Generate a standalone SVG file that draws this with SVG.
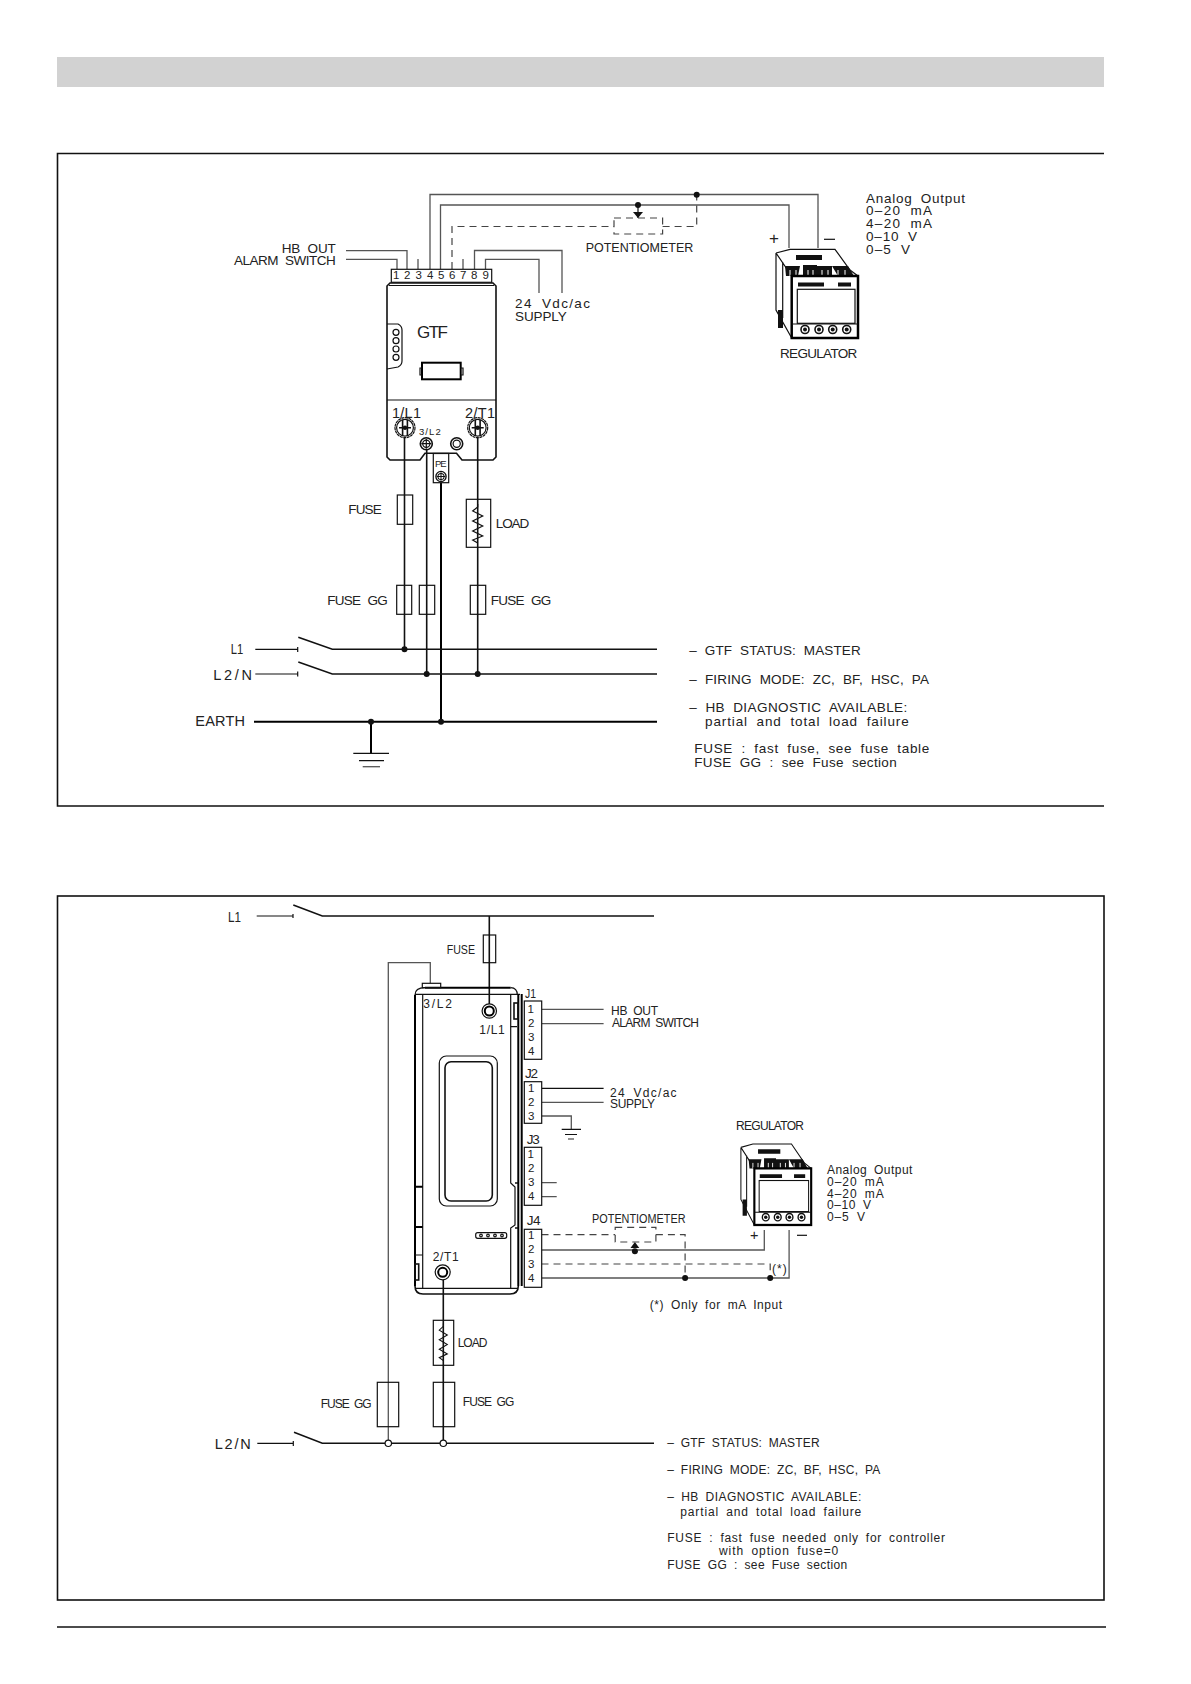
<svg xmlns="http://www.w3.org/2000/svg" width="1191" height="1684" viewBox="0 0 1191 1684">
<style>
text{font-family:"Liberation Sans",Arial,sans-serif;font-size:13.5px;fill:#222;word-spacing:4px}
.s{font-size:12px;word-spacing:3px}
.n{font-size:11.5px;word-spacing:0}
.xs{font-size:9.5px;word-spacing:0}
.m{font-size:14.5px;word-spacing:0}
.l{font-size:17px;word-spacing:0}
.h{fill:none;stroke:#111;stroke-width:1.2}
.k{fill:none;stroke:#000;stroke-width:2}
.w{fill:none;stroke:#555;stroke-width:1.3}
.b{fill:none;stroke:#111;stroke-width:1.6}
.d{fill:none;stroke:#444;stroke-width:1.2;stroke-dasharray:7 5}
.f{fill:#fff;stroke:#111;stroke-width:1.2}
.o{fill:#111;stroke:none}
</style>
<defs>
<circle id="dot" r="3" class="o"/>
<g id="screw">
<circle r="10" class="h" stroke-dasharray="3 0.6"/><circle r="8.4" class="h"/><circle r="2.2" class="o"/>
<path class="b" d="M-2.4-8V8M2.4-8V8M-6 0H6"/>
</g>
<g id="smallscrew">
<circle r="6" class="b"/><circle r="3.6" class="h"/><path class="h" d="M-5 0H5M0-5V5"/>
</g>
<path id="zig" class="h" d="M0 0L0 3-5 7 5 12-5 17 5 22-5 27 5 32-5 36 0 39"/>
<g id="reg">
<path class="h" d="M776 253L790 249.3H835L850 270L858 276M776 253V310L791.7 338M776 253L791.7 276M782.7 262V318"/>
<path class="o" d="M796 255H822V260H796ZM785 266H800L798 276H786ZM803 265H817V276H803ZM817 266H832V276H817ZM832 266H848L854 276H838ZM778 310H783V328H778Z"/>
<path stroke="#fff" stroke-width="1" fill="none" d="M790 270V276M796 270V276M808 270V276M813 270V276M822 270V276M828 270V276M838 270V276M845 270V276"/>
<rect x="791.7" y="276" width="66.3" height="62" fill="#fff" stroke="#000" stroke-width="2.5"/>
<rect x="797.3" y="289.3" width="57.7" height="34" class="h" stroke-width="1.4"/>
<path class="o" d="M798 282.5H824V286.5H798ZM838 282.5H851V286.5H838Z"/>
<path class="h" d="M792 324H858"/>
<circle cx="805" cy="329.5" r="4" class="b"/><circle cx="819" cy="329.5" r="4" class="b"/><circle cx="832.7" cy="329.5" r="4" class="b"/><circle cx="846.7" cy="329.5" r="4" class="b"/>
<circle cx="805" cy="329.5" r="2" class="o"/><circle cx="819" cy="329.5" r="2" class="o"/><circle cx="832.7" cy="329.5" r="2" class="o"/><circle cx="846.7" cy="329.5" r="2" class="o"/>
</g>
</defs>

<rect id="header-bar" x="57" y="57" width="1047" height="30" fill="#d2d2d2"/>
<path id="frame-1" class="b" d="M1104 153.5H57.5V806H1104"/>
<rect id="frame-2" x="57.5" y="896" width="1046.5" height="704" class="b"/>
<path id="footer-line" class="b" d="M57 1627H1106"/>

<g id="connectors">
<!-- upper diagram -->
<path class="w" d="M346 250.7H407V269M346 259.3H397V269M418 259V269M463 259V269"/>
<path class="w" d="M430 269V194.5H818V248M440.5 269V205H789V248"/>
<path class="w" d="M474.5 269V250.5H562V293M485.5 269V259.3H539V293"/>
<path class="d" d="M452 269V226.5H614M662.6 226.5H696.7V195"/>
<path class="h" d="M638 205V218"/>
<path class="o" d="M633 212H643L638 218Z"/>
<use href="#dot" x="638" y="205"/>
<use href="#dot" x="696.7" y="194.7"/>
<path class="b" d="M404.5 438V649.3M477.7 438V674"/>
<path class="k" d="M441 476V721.7"/>
<path class="b" stroke-width="1.3" d="M426.7 450V674"/>
<path class="h" d="M255.3 649.3H297.7M297.7 647V652"/>
<path class="b" d="M298.3 637.3L332.3 649.3H657"/>
<path class="h" d="M255.3 674H297.7M297.7 671.5V676.5"/>
<path class="b" d="M298.3 662L332.3 674H657"/>
<path class="k" d="M254 721.7H657"/>
<path class="k" d="M371 721.7V753.3"/>
<path class="h" d="M353.3 753.3H389M359 760.7H384"/><path class="w" d="M362.7 766.7H380"/>
<use href="#dot" x="404.5" y="649.3"/><use href="#dot" x="426.7" y="674"/><use href="#dot" x="477.7" y="674"/><use href="#dot" x="371" y="721.7"/><use href="#dot" x="441" y="721.7"/>
<!-- lower diagram -->
<path class="h" d="M256.7 916H293M293 914V918M257.3 1443.3H293.3M293.3 1441V1446"/>
<path class="b" d="M293.3 905L322.3 916H654M294 1432.3L322.3 1443.3H654"/>
<path class="b" d="M489.3 916V1004"/>
<path class="w" d="M430.3 983.3V962.7H388.3V1443.3"/>
<path class="b" d="M443.3 1280V1443.3"/>
<path class="w" d="M541.7 1009.3H603.6M541.7 1023.7H603.6"/>
<path class="h" d="M541.7 1088.3H603.6"/><path class="w" d="M541.7 1102.3H603.6M541.7 1116H571.3V1129.3M541.7 1182.7H556.7M541.7 1196.7H556.7"/>
<path class="h" d="M561.7 1129.3H581M565 1134.5H577"/><path class="w" d="M568 1139H574"/>
<path class="d" d="M541.5 1234.7H615.2M655.9 1234.7H685.1V1278M541.5 1264H770.2V1278"/>
<path class="w" d="M541.5 1250H764.3V1230M541.5 1278H789.1V1230"/>
<path class="o" d="M630.5 1248L634.9 1242L639.3 1248Z"/>
<use href="#dot" x="634.9" y="1251.3"/><use href="#dot" x="685.1" y="1278"/><use href="#dot" x="770.2" y="1278"/>
<circle cx="388.3" cy="1443.3" r="3.2" class="f"/><circle cx="443.3" cy="1443.3" r="3.2" class="f"/>
</g>

<g id="gtf-top">
<path class="b" d="M390 283H493L496 286V457L493 460H462L456.5 453.3H425L420 460H390L387 457V286Z"/>
<path class="h" d="M389 285.5H494M387 400H496"/>
<path class="h" d="M387 324H398Q402 326 402 330V361Q402 365 398 367L387 369"/>
<circle cx="396" cy="332.3" r="3" class="h"/><circle cx="396" cy="340.7" r="3" class="h"/><circle cx="396" cy="349" r="3" class="h"/><circle cx="396" cy="357.3" r="3" class="h"/>
<rect x="422" y="362.7" width="38.7" height="16.6" fill="#fff" stroke="#000" stroke-width="2"/>
<path class="h" d="M422 368H420V375H422M460.7 368H463V375H460.7"/>
<text class="l" x="417" y="337.7" textLength="31">GTF</text>
<text class="m" x="392" y="417.7" textLength="29">1/L1</text>
<text class="m" x="465" y="417.7" textLength="30">2/T1</text>
<text class="xs" x="419" y="435" textLength="21.7">3/L2</text>
<use href="#screw" x="405" y="427.7"/>
<use href="#screw" x="477.7" y="427.7"/>
<use href="#smallscrew" x="426.3" y="443.7"/>
<circle cx="456.7" cy="443.7" r="6" class="b"/><circle cx="456.7" cy="443.7" r="3.6" class="h"/>
</g>
<g id="gtf-terminals">
<rect x="391.3" y="269.3" width="100.4" height="13" class="f"/>
<text class="n" x="393" y="278.8">1</text><text class="n" x="404" y="278.8">2</text><text class="n" x="415.5" y="278.8">3</text><text class="n" x="427" y="278.8">4</text><text class="n" x="438" y="278.8">5</text><text class="n" x="449" y="278.8">6</text><text class="n" x="460" y="278.8">7</text><text class="n" x="471" y="278.8">8</text><text class="n" x="482.5" y="278.8">9</text>
</g>
<g id="pe-terminal">
<rect x="433.3" y="453.5" width="15.4" height="29.2" class="f"/>
<text class="xs" x="435" y="466.7" textLength="11.5">PE</text>
<use href="#smallscrew" x="441" y="476.5" transform="translate(441 476.5) scale(.85) translate(-441 -476.5)"/>
</g>
<g id="potentiometer-top">
<rect x="614" y="218" width="48.6" height="16" fill="none" class="d" stroke-dasharray="6 4"/>
<text x="585.7" y="252" textLength="107.6" lengthAdjust="spacingAndGlyphs">POTENTIOMETER</text>
</g>
<g id="regulator-top">
<use href="#reg"/>
<text x="780" y="357.7" textLength="77.3">REGULATOR</text>
<text x="769" y="243.5" class="l">+</text>
<path class="h" d="M824 239.3H835"/>
</g>
<g id="analog-top">
<text x="866" y="202.7" textLength="99">Analog Output</text>
<text x="866" y="215" textLength="66">0–20 mA</text>
<text x="866" y="228" textLength="66">4–20 mA</text>
<text x="866" y="240.7" textLength="51">0–10 V</text>
<text x="866" y="253.7" textLength="44">0–5 V</text>
</g>
<g id="labels-top">
<text x="281.7" y="252.7" textLength="54">HB OUT</text>
<text x="234" y="265" textLength="101.7">ALARM SWITCH</text>
<text x="515" y="307.7" textLength="75">24 Vdc/ac</text>
<text x="515" y="320.7" textLength="51.7">SUPPLY</text>
</g>
<g id="fuse-top"><rect x="397.3" y="495" width="15.4" height="29.3" class="h"/><text x="348.3" y="514" textLength="33.4">FUSE</text></g>
<g id="load-top"><rect x="466.3" y="499.3" width="24.4" height="48" class="h"/><use href="#zig" x="477.7" y="504"/><text x="495.7" y="528" textLength="33.6">LOAD</text></g>
<g id="fuses-gg-top">
<rect x="396.7" y="585.3" width="15" height="29" class="h"/><rect x="419.3" y="585.3" width="15.4" height="29" class="h"/><rect x="470.3" y="585.3" width="15.4" height="29" class="h"/>
<text x="327.3" y="605" textLength="60.4">FUSE GG</text><text x="490.7" y="605" textLength="60.6">FUSE GG</text>
</g>
<g id="lines-top">
<text class="m" x="230.7" y="654" textLength="12.5" lengthAdjust="spacingAndGlyphs">L1</text>
<text class="m" x="213.3" y="680" textLength="38.7">L2/N</text>
<text class="m" x="195.3" y="726" textLength="49.7">EARTH</text>
</g>
<g id="notes-top">
<text x="689.3" y="655.3" textLength="171.4">– GTF STATUS: MASTER</text>
<text x="689.3" y="684.3" textLength="239.7">– FIRING MODE: ZC, BF, HSC, PA</text>
<text x="689.3" y="712.3" textLength="218">– HB DIAGNOSTIC AVAILABLE:</text>
<text x="705" y="726" textLength="203.7">partial and total load failure</text>
<text x="694.3" y="753.3" textLength="235">FUSE : fast fuse, see fuse table</text>
<text x="694.3" y="767.3" textLength="202.4">FUSE GG : see Fuse section</text>
</g>

<g id="gtf-bottom">
<path class="k" d="M425 987.7H510.7M415 995V1286"/>
<path class="h" d="M415 995Q415 987.7 425 987.7M510.7 987.7Q517.3 988 517.3 995M415 994.3H520"/>
<path class="h" d="M422.7 995V1288.3M510.7 994.3V1183L515 1187V1225L510.7 1228V1288.3"/>
<path class="k" stroke-width="1.4" d="M518.3 994V1286M521.7 994V1286"/>
<path class="k" d="M415 1186.7H422.7M415 1227H422.7"/>
<path class="h" d="M415 1255H422.7M510.7 1026.7H517"/>
<path class="b" d="M515 1183H518M515 1228H518"/>
<rect x="415" y="1264" width="3.7" height="16" class="b"/>
<rect x="514" y="1003" width="4" height="16" class="b"/>
<path class="b" d="M415 1286Q415 1294 423 1294H510Q518.3 1294 518.3 1286"/>
<path class="h" d="M415 1288.3H518"/>
<rect x="422.3" y="983.3" width="18.4" height="4.4" class="h"/>
<rect x="439.3" y="1056" width="58" height="150" rx="7" class="h"/>
<rect x="445" y="1061.7" width="47.3" height="139.3" rx="6" class="b" stroke-width="1.8"/>
<rect x="475.7" y="1232.7" width="31" height="5.6" rx="2" class="h"/>
<circle cx="481" cy="1235.5" r="1.3" class="h"/><circle cx="488" cy="1235.5" r="1.3" class="h"/><circle cx="495" cy="1235.5" r="1.3" class="h"/><circle cx="502" cy="1235.5" r="1.3" class="h"/>
<circle cx="489.3" cy="1011" r="7.2" class="h"/><circle cx="489.3" cy="1011" r="4.5" class="k"/>
<circle cx="442.7" cy="1272.3" r="7.5" class="h"/><circle cx="442.7" cy="1272.3" r="4.5" class="k"/>
<text class="s" x="423.3" y="1007.7" textLength="28.7">3/L2</text>
<text class="s" x="479.3" y="1034.3" textLength="25.4">1/L1</text>
<text class="s" x="432.7" y="1260.7" textLength="26">2/T1</text>
</g>
<g id="j1">
<text x="525" y="997.7" textLength="11" lengthAdjust="spacingAndGlyphs">J1</text>
<rect x="524.3" y="1001" width="17.4" height="58.3" class="f"/>
<text class="n" x="527.5" y="1013.3">1</text><text class="n" x="528" y="1027">2</text><text class="n" x="528" y="1041">3</text><text class="n" x="528" y="1055">4</text>
</g>
<g id="j2">
<text x="525" y="1077.7" textLength="13">J2</text>
<rect x="524.3" y="1081.7" width="17.4" height="41.6" class="f"/>
<text class="n" x="528" y="1091.7">1</text><text class="n" x="528" y="1106">2</text><text class="n" x="528" y="1120">3</text>
</g>
<g id="j3">
<text x="526.7" y="1144" textLength="13">J3</text>
<rect x="524.3" y="1147.3" width="17.4" height="58" class="f"/>
<text class="n" x="527.5" y="1158.3">1</text><text class="n" x="528" y="1171.7">2</text><text class="n" x="528" y="1185.7">3</text><text class="n" x="528" y="1200">4</text>
</g>
<g id="j4">
<text x="526.7" y="1225" textLength="13.8">J4</text>
<rect x="524.3" y="1229.3" width="17.4" height="58" class="f"/>
<text class="n" x="528" y="1239.3">1</text><text class="n" x="528" y="1253.3">2</text><text class="n" x="528" y="1267.7">3</text><text class="n" x="528" y="1281.7">4</text>
</g>
<g id="potentiometer-bottom">
<rect x="615.2" y="1227.3" width="40.7" height="14.7" fill="none" class="d" stroke-dasharray="6 4"/>
<text class="s" x="592.1" y="1223.3" textLength="93.4" lengthAdjust="spacingAndGlyphs">POTENTIOMETER</text>
</g>
<g id="regulator-bottom">
<use href="#reg" transform="translate(740.9 1144) scale(.857 .913) translate(-776 -249.3)"/>
<text class="s" x="736" y="1130" textLength="68">REGULATOR</text>
<text x="750" y="1239.8" class="m">+</text>
<path class="h" d="M797 1235.3H807"/>
</g>
<g id="analog-bottom">
<text class="s" x="827" y="1174.3" textLength="85.4">Analog Output</text>
<text class="s" x="827" y="1185.7" textLength="56.8">0–20 mA</text>
<text class="s" x="827" y="1197.7" textLength="56.8">4–20 mA</text>
<text class="s" x="827" y="1209" textLength="44">0–10 V</text>
<text class="s" x="827" y="1220.7" textLength="37.9">0–5 V</text>
</g>
<g id="labels-bottom">
<text class="m" x="228" y="921.7" textLength="13" lengthAdjust="spacingAndGlyphs">L1</text>
<text x="446.7" y="954" class="s" textLength="28.3" lengthAdjust="spacingAndGlyphs">FUSE</text>
<rect x="483.3" y="935" width="12.4" height="27.7" class="h"/>
<text class="s" x="611" y="1015" textLength="47">HB OUT</text>
<text class="s" x="612" y="1027" textLength="87">ALARM SWITCH</text>
<text class="s" x="610" y="1096.5" textLength="66.6">24 Vdc/ac</text>
<text class="s" x="610" y="1108" textLength="45">SUPPLY</text>
<text class="s" x="772" y="1273.3" textLength="14.7">(*)</text>
<text class="s" x="649.7" y="1309" textLength="132.5">(*) Only for mA Input</text>
</g>
<g id="load-bottom"><rect x="433.3" y="1320.3" width="20.4" height="45" class="h"/><use href="#zig" x="443.3" y="1323.5" transform="translate(443.3 1323.5) scale(.8 .95) translate(-443.3 -1323.5)"/><text class="s" x="457.7" y="1346.7" textLength="29.6">LOAD</text></g>
<g id="fuses-gg-bottom">
<rect x="377.3" y="1382.3" width="21.4" height="44.4" class="h"/><rect x="433.3" y="1382.3" width="21.4" height="44.4" class="h"/>
<text class="s" x="320.7" y="1408" textLength="51">FUSE GG</text><text class="s" x="462.7" y="1406" textLength="51.6">FUSE GG</text>
<text class="m" x="214.7" y="1449" textLength="36">L2/N</text>
</g>
<g id="notes-bottom">
<text class="s" x="667.3" y="1447.3" textLength="152.4">– GTF STATUS: MASTER</text>
<text class="s" x="667.3" y="1474.3" textLength="213">– FIRING MODE: ZC, BF, HSC, PA</text>
<text class="s" x="667.3" y="1501" textLength="194">– HB DIAGNOSTIC AVAILABLE:</text>
<text class="s" x="680.3" y="1515.7" textLength="181">partial and total load failure</text>
<text class="s" x="667.3" y="1542" textLength="277.7">FUSE : fast fuse needed only for controller</text>
<text class="s" x="719" y="1555.3" textLength="119.3">with option fuse=0</text>
<text class="s" x="667.3" y="1569" textLength="180">FUSE GG : see Fuse section</text>
</g>
</svg>
